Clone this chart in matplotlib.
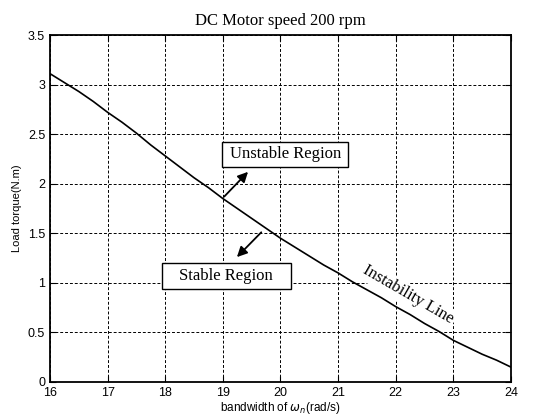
import numpy as np
import matplotlib.pyplot as plt
from matplotlib.patches import Rectangle

# bandwidth (rad/s) vs load torque on the instability boundary
bw = [16.0, 16.25, 16.5, 16.75, 17.0, 17.25, 17.5, 17.75, 18.0, 18.25, 18.5,
      18.75, 19.0, 19.25, 19.5, 19.75, 20.0, 20.25, 20.5, 20.75, 21.0, 21.25,
      21.5, 21.75, 22.0, 22.25, 22.5, 22.75, 23.0, 23.25, 23.5, 23.75, 24.0]
torque = [3.11, 3.02, 2.93, 2.83, 2.72, 2.62, 2.51, 2.39, 2.28, 2.17, 2.06,
          1.96, 1.85, 1.75, 1.65, 1.55, 1.45, 1.36, 1.27, 1.18, 1.10, 1.01,
          0.93, 0.85, 0.76, 0.68, 0.59, 0.51, 0.42, 0.35, 0.28, 0.22, 0.15]

xticks = [16, 17, 18, 19, 20, 21, 22, 23, 24]
yticks = [0, 0.5, 1, 1.5, 2, 2.5, 3, 3.5]
yticklabels = ['0', '0.5', '1', '1.5', '2', '2.5', '3', '3.5']

plt.rcParams['font.family'] = 'Liberation Sans'

fig = plt.figure(figsize=(5.33, 4.18), dpi=100)
ax = fig.add_axes([50 / 533, 1 - 382 / 418, 461 / 533, 347 / 418])

ax.plot(bw, torque, color='black', linewidth=1.2, zorder=3)

ax.set_xlim(16, 24)
ax.set_ylim(0, 3.5)
ax.set_xticks(xticks)
ax.set_yticks(yticks)
ax.set_yticklabels(yticklabels)
ax.grid(True, color='black', linestyle=(0, (3, 2)), linewidth=0.7)
ax.tick_params(direction='in', top=True, right=True, labelsize=9, length=4)
for s in ax.spines.values():
    s.set_linewidth(1.3)

ax.set_title('DC Motor speed 200 rpm', family='Liberation Serif', fontsize=12, pad=7)
ax.set_xlabel(r'bandwidth of $\omega_n$(rad/s)', fontsize=8.5, labelpad=1)
ax.set_ylabel('Load torque(N.m)', fontsize=8, labelpad=4)

# region labels in framed boxes
for (x0, x1, y0, y1), label in [((18.99, 21.18, 2.17, 2.42), 'Unstable Region'),
                                ((17.94, 20.18, 0.94, 1.20), 'Stable Region')]:
    ax.add_patch(Rectangle((x0, y0), x1 - x0, y1 - y0, facecolor='white',
                           edgecolor='black', linewidth=1, zorder=5))
    ax.text((x0 + x1) / 2, (y0 + y1) / 2, label, family='Liberation Serif',
            fontsize=12, ha='center', va='center', zorder=6)

ax.annotate('', xy=(19.47, 2.14), xytext=(18.99, 1.85),
            arrowprops=dict(arrowstyle='-|>', color='black', lw=1.3, mutation_scale=15))
ax.annotate('', xy=(19.21, 1.24), xytext=(19.70, 1.53),
            arrowprops=dict(arrowstyle='-|>', color='black', lw=1.3, mutation_scale=15))

ax.text(22.21, 0.88, 'Instability Line', family='Liberation Serif', fontsize=12,
        rotation=-30, rotation_mode='anchor', ha='center', va='center', zorder=4,
        bbox=dict(boxstyle='square,pad=0.15', facecolor='white', edgecolor='none'))

fig.savefig('out.png', dpi=100)
